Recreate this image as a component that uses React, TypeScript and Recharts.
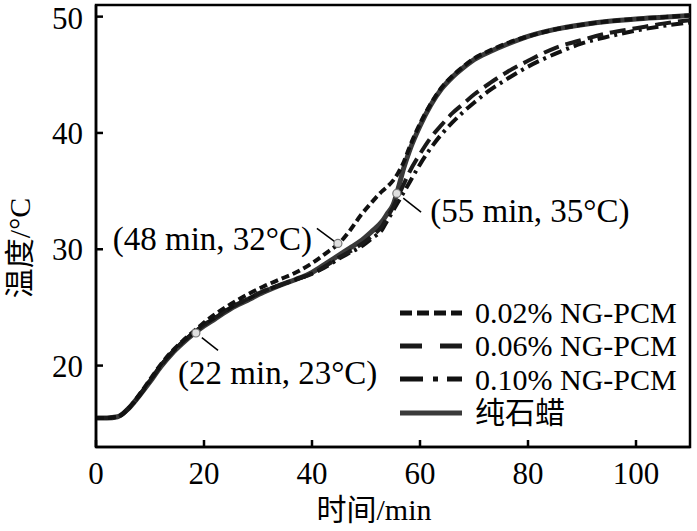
import React from 'react';
import { LineChart, Line, XAxis, YAxis, ReferenceArea, ReferenceDot, ReferenceLine, Label } from 'recharts';

const times = [0, 2, 4, 6, 8, 10, 12, 14, 16, 18, 20, 22, 25, 28, 31, 34, 37, 40, 43, 45, 47, 49, 51, 53, 54, 55, 56, 57, 58, 60, 62, 64, 66, 68, 70, 73, 76, 80, 85, 90, 95, 100, 105, 110];
const pcm002 = [15.5, 15.5, 15.6, 16.3, 17.5, 18.8, 20.1, 21.2, 22.1, 22.9, 23.7, 24.4, 25.3, 26.1, 26.8, 27.4, 28.0, 28.8, 29.8, 30.5, 31.6, 32.9, 34.0, 35.0, 35.4, 35.9, 36.6, 37.5, 38.7, 40.8, 42.5, 43.9, 44.9, 45.7, 46.4, 47.1, 47.7, 48.3, 48.9, 49.3, 49.6, 49.8, 49.95, 50.1];
const pcm006 = [15.5, 15.5, 15.6, 16.3, 17.4, 18.7, 20.0, 21.1, 22.0, 22.8, 23.5, 24.1, 25.0, 25.7, 26.4, 26.9, 27.4, 27.9, 28.7, 29.3, 29.8, 30.4, 31.1, 32.0, 32.8, 33.6, 34.6, 35.6, 36.6, 38.2, 39.6, 40.7, 41.7, 42.5, 43.3, 44.3, 45.2, 46.2, 47.3, 48.0, 48.6, 49.0, 49.4, 49.7];
const pcm010 = [15.5, 15.5, 15.6, 16.3, 17.4, 18.7, 20.0, 21.1, 22.0, 22.8, 23.5, 24.1, 25.0, 25.7, 26.4, 26.9, 27.4, 27.9, 28.6, 29.2, 29.7, 30.2, 30.9, 31.7, 32.5, 33.3, 34.1, 34.9, 35.7, 37.3, 38.7, 39.9, 40.9, 41.8, 42.6, 43.7, 44.6, 45.7, 46.8, 47.7, 48.3, 48.8, 49.2, 49.5];
const pureWax = [15.5, 15.5, 15.6, 16.3, 17.4, 18.6, 19.9, 21.0, 21.9, 22.7, 23.4, 24.0, 24.9, 25.6, 26.3, 26.9, 27.4, 28.0, 28.9, 29.5, 30.1, 30.7, 31.5, 32.4, 33.1, 33.8, 35.3, 37.0, 38.4, 40.6, 42.4, 43.8, 44.8, 45.6, 46.3, 47.0, 47.6, 48.3, 48.9, 49.3, 49.6, 49.8, 49.95, 50.1];

const xTicks = [0, 20, 40, 60, 80, 100];
const yTicks = [20, 30, 40, 50];

const seriesNames = ['0.02% NG-PCM', '0.06% NG-PCM', '0.10% NG-PCM', '纯石蜡'];

const markers = [
  { t: 18.5, v: 22.8 },
  { t: 44.8, v: 30.5 },
  { t: 55.7, v: 34.8 },
];
const annotations = [
  { text: '(22 min, 23°C)', t: 15.2, v: 19.4, anchor: 'start' },
  { text: '(48 min, 32°C)', t: 40.0, v: 30.9, anchor: 'end' },
  { text: '(55 min, 35°C)', t: 61.9, v: 33.3, anchor: 'start' },
];
const leaders = [
  [{ x: 19.6, y: 22.4 }, { x: 22.6, y: 21.3 }],
  [{ x: 40.9, y: 31.8 }, { x: 44.4, y: 30.6 }],
  [{ x: 56.9, y: 34.4 }, { x: 60.2, y: 33.2 }],
];

const data = times.map((t, i) => ({
  t,
  a: pcm002[i],
  b: pcm006[i],
  c: pcm010[i],
  d: pureWax[i],
}));

const FONT = '"Liberation Serif", "Times New Roman", "Noto Sans CJK SC", serif';

const series = [
  { key: 'a', name: seriesNames[0], dash: '8 4', width: 4, color: '#111', legendDash: '12 5' },
  { key: 'b', name: seriesNames[1], dash: '16 7', width: 4, color: '#1a1a1a', legendDash: '22 18' },
  { key: 'c', name: seriesNames[2], dash: '12 5 3 5', width: 4, color: '#111', legendDash: '23 10 5 9' },
  { key: 'd', name: seriesNames[3], dash: undefined, width: 5, color: '#3a3a3a', legendDash: undefined },
];

const LegendBox = () => (
  <div style={{ position: 'absolute', left: 400, top: 296, fontFamily: FONT }}>
    {series.map((s) => (
      <div key={s.key} style={{ display: 'flex', alignItems: 'center', height: 33.3 }}>
        <svg width={62} height={10} style={{ marginRight: 13, display: 'block' }}>
          <line x1={0} y1={5} x2={62} y2={5} stroke={s.color} strokeWidth={5} strokeDasharray={s.legendDash} />
        </svg>
        <span style={{ fontSize: 30, color: '#000', lineHeight: '33px', whiteSpace: 'nowrap' }}>{s.name}</span>
      </div>
    ))}
  </div>
);

export default function App() {
  return (
    <div style={{ position: 'absolute', left: 0, top: 0, width: 697, height: 531, background: '#fff' }}>
      <LineChart width={697} height={531} data={data} margin={{ top: 5, right: 7, left: 0, bottom: 0 }}>
        <ReferenceArea x1={0} x2={110} y1={13} y2={51} fill="none" stroke="#000" strokeWidth={2.5} ifOverflow="visible" />
        <XAxis
          dataKey="t"
          type="number"
          domain={[0, 110]}
          ticks={xTicks}
          allowDataOverflow
          height={84}
          tickSize={-7}
          tickMargin={22}
          axisLine={{ stroke: '#000', strokeWidth: 2.5 }}
          tickLine={{ stroke: '#000', strokeWidth: 2.5 }}
          tick={{ fontFamily: FONT, fontSize: 31, fill: '#000' }}
        >
          <Label
            content={(p: any) => {
              const vb = p.viewBox || {};
              return (
                <text x={vb.x + vb.width / 2 - 19} y={vb.y + vb.height - 11} textAnchor="middle" style={{ fontFamily: FONT, fontSize: 30, fill: '#000' }}>
                  时间/min
                </text>
              );
            }}
          />
        </XAxis>
        <YAxis
          type="number"
          domain={[13, 51]}
          ticks={yTicks}
          allowDataOverflow
          width={96}
          tickSize={-7}
          tickMargin={20}
          axisLine={{ stroke: '#000', strokeWidth: 2.5 }}
          tickLine={{ stroke: '#000', strokeWidth: 2.5 }}
          tick={{ fontFamily: FONT, fontSize: 31, fill: '#000' }}
        >
          <Label
            content={(p: any) => {
              const vb = p.viewBox || {};
              const cx = vb.x + 19;
              const cy = vb.y + vb.height / 2 + 22;
              return (
                <text x={cx} y={cy} transform={`rotate(-90 ${cx} ${cy})`} textAnchor="middle" dominantBaseline="central" style={{ fontFamily: FONT, fontSize: 30, fill: '#000' }}>
                  温度/°C
                </text>
              );
            }}
          />
        </YAxis>
        {[...series].reverse().map((s) => (
          <Line
            key={s.key}
            dataKey={s.key}
            name={s.name}
            type="monotone"
            stroke={s.color}
            strokeWidth={s.width}
            strokeDasharray={s.dash}
            dot={false}
            activeDot={false}
            isAnimationActive={false}
          />
        ))}
        {leaders.map((seg, i) => (
          <ReferenceLine key={'l' + i} segment={seg} stroke="#000" strokeWidth={1.5} ifOverflow="visible" />
        ))}
        {markers.map((m, i) => (
          <ReferenceDot key={'m' + i} x={m.t} y={m.v} r={4} fill="#e0e0e0" stroke="#777" strokeWidth={1.2} />
        ))}
        {annotations.map((a, i) => (
          <ReferenceDot
            key={'a' + i}
            x={a.t}
            y={a.v}
            r={0}
            fill="none"
            stroke="none"
            label={{
              content: (p: any) => {
                const vb = p.viewBox || {};
                return (
                  <text
                    x={vb.x}
                    y={vb.y}
                    textAnchor={a.anchor}
                    dominantBaseline="central"
                    style={{ fontFamily: FONT, fontSize: 33, fill: '#000' }}
                  >
                    {a.text}
                  </text>
                );
              },
            }}
          />
        ))}
      </LineChart>
      <LegendBox />
    </div>
  );
}
